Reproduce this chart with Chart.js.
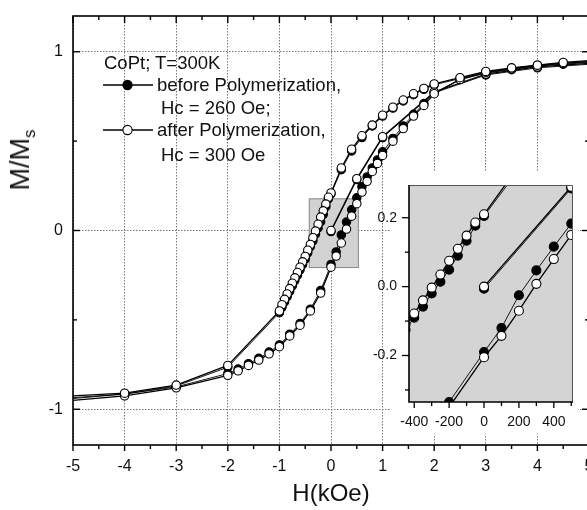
<!DOCTYPE html>
<html>
<head>
<meta charset="utf-8">
<script src="https://cdn.jsdelivr.net/npm/chart.js@4.4.1/dist/chart.umd.min.js"></script>
<style>
html, body { margin: 0; padding: 0; background: #fff; overflow: hidden; width: 587px; height: 510px; }
#wrap { position: relative; width: 600px; height: 510px; }
canvas { position: absolute; left: 0; top: 0; }
#inset { pointer-events: none; }
.txt { position: absolute; font-family: "Liberation Sans", Arial, sans-serif; color: #111; white-space: nowrap; font-size: 18.5px; line-height: 22px; }
#ytitle { left: 25px; top: 160px; font-size: 27px; line-height: 30px; transform: translate(-50%, -50%) rotate(-90deg); }
#ytitle sub { font-size: 17px; vertical-align: -6px; }
.mark { position: absolute; }
</style>
</head>
<body>
<div id="wrap">
  <canvas id="main" width="600" height="510"></canvas>
  <canvas id="inset" width="600" height="510"></canvas>
  <div class="txt" id="ytitle">M/M<sub>s</sub></div>
  <div class="txt" style="left:104px;top:52px">CoPt; T=300K</div>
  <svg class="mark" style="left:102px;top:78px" width="52" height="14"><line x1="1" y1="7" x2="51" y2="7" stroke="#000" stroke-width="1.4"/><circle cx="25.5" cy="7" r="4.6" fill="#000" stroke="#000" stroke-width="1.1"/></svg>
  <div class="txt" style="left:157px;top:74px">before Polymerization,</div>
  <div class="txt" style="left:161px;top:97px">Hc = 260 Oe;</div>
  <svg class="mark" style="left:102px;top:123px" width="52" height="14"><line x1="1" y1="7" x2="51" y2="7" stroke="#000" stroke-width="1.4"/><circle cx="25.5" cy="7" r="4.6" fill="#fff" stroke="#000" stroke-width="1.1"/></svg>
  <div class="txt" style="left:157px;top:119px">after Polymerization,</div>
  <div class="txt" style="left:161px;top:144px">Hc = 300 Oe</div>
</div>
<script>
// field H in kOe, magnetisation M/Ms
// descending branch (field going from +5 to -5)
const descH = [5, 4.5, 4, 3.5, 3, 2.5, 2, 1.8, 1.6, 1.4, 1.2, 1.0, 0.8, 0.6, 0.4, 0.2, 0,
  -0.05, -0.1, -0.15, -0.2, -0.25, -0.3, -0.35, -0.4, -0.45, -0.5, -0.55, -0.6, -0.65,
  -0.7, -0.75, -0.8, -0.85, -0.9, -0.95, -1.0, -2, -3, -4, -5];
const descAfter = [0.95, 0.94, 0.925, 0.91, 0.89, 0.855, 0.82, 0.795, 0.765, 0.73, 0.69, 0.645, 0.59, 0.53, 0.455, 0.35, 0.21,
  0.186, 0.148, 0.11, 0.075, 0.035, -0.003, -0.04, -0.078, -0.11, -0.145, -0.175, -0.205, -0.235,
  -0.265, -0.295, -0.325, -0.355, -0.385, -0.415, -0.45, -0.755, -0.865, -0.91, -0.925];
const descBefore = [0.945, 0.935, 0.92, 0.905, 0.885, 0.85, 0.815, 0.79, 0.76, 0.725, 0.685, 0.64, 0.585, 0.52, 0.445, 0.34, 0.205,
  0.177, 0.133, 0.09, 0.049, 0.014, -0.02, -0.058, -0.09, -0.125, -0.16, -0.19, -0.22, -0.25,
  -0.28, -0.31, -0.34, -0.37, -0.40, -0.43, -0.46, -0.765, -0.87, -0.915, -0.935];

// ascending branch (field going from -5 to +5)
const ascH = [-5, -4, -3, -2, -1.8, -1.6, -1.4, -1.2, -1.0, -0.8, -0.6, -0.4, -0.2, 0, 0.1, 0.2, 0.3, 0.4, 0.5,
  0.6, 0.7, 0.8, 0.9, 1.0, 1.2, 1.4, 1.6, 1.8, 2.0, 2.5, 3, 3.5, 4, 4.5, 5];
const ascAfter = [-0.95, -0.925, -0.88, -0.81, -0.785, -0.755, -0.725, -0.69, -0.65, -0.59, -0.53, -0.45, -0.35, -0.205, -0.143, -0.07, 0.008, 0.08, 0.15,
  0.215, 0.275, 0.33, 0.375, 0.42, 0.5, 0.57, 0.64, 0.70, 0.765, 0.845, 0.885, 0.905, 0.925, 0.935, 0.945];
const ascBefore = [-0.94, -0.915, -0.875, -0.80, -0.775, -0.745, -0.715, -0.68, -0.64, -0.58, -0.52, -0.44, -0.335, -0.19, -0.12, -0.025, 0.047, 0.116, 0.183,
  0.245, 0.30, 0.35, 0.395, 0.44, 0.515, 0.585, 0.65, 0.71, 0.77, 0.845, 0.88, 0.9, 0.92, 0.93, 0.94];

// initial magnetisation curve from the demagnetised state
const virH = [0, 0.5, 1, 2, 3, 4, 5];
const virAfter = [0, 0.29, 0.525, 0.775, 0.875, 0.915, 0.935];
const virBefore = [-0.006, 0.285, 0.52, 0.77, 0.87, 0.91, 0.93];

// axis ticks
const xTicks = [-5, -4, -3, -2, -1, 0, 1, 2, 3, 4, 5];
const yTicks = [-1, 0, 1];
const insetXTicks = [-400, -200, 0, 200, 400];
const insetYTicks = [-0.2, 0, 0.2];

// region shown enlarged in the inset (main axes units)
const zoomBox = { x0: -0.43, x1: 0.54, y0: -0.21, y1: 0.18 };

const FONT = '"Liberation Sans", Arial, sans-serif';

function series(hs, ms, filled, k, radius, hideEdge) {
  return {
    data: hs.map((h, i) => ({ x: h * k, y: ms[i] })),
    showLine: true,
    tension: 0,
    borderColor: '#000',
    borderWidth: filled ? 0.9 : 1.3,
    pointBackgroundColor: filled ? '#000' : '#fff',
    pointBorderColor: '#000',
    pointBorderWidth: 1.1,
    pointRadius: hideEdge ? (c => Math.abs(hs[c.dataIndex]) >= 5 ? 0 : radius) : radius,
    order: filled ? 1 : 0,
    clip: 0
  };
}

function allSeries(k, r, hide) {
  return [
    series(descH, descBefore, true, k, r, hide),
    series(ascH, ascBefore, true, k, r, hide),
    series(virH, virBefore, true, k, r, hide),
    series(descH, descAfter, false, k, r, hide),
    series(ascH, ascAfter, false, k, r, hide),
    series(virH, virAfter, false, k, r, hide)
  ];
}

function fixBox(size) {
  return s => {
    if (s.isHorizontal()) s.height = size; else s.width = size;
    s.paddingLeft = s.paddingRight = s.paddingTop = s.paddingBottom = 0;
  };
}

function tickMarks(ctx, scale, vals, len, side, area) {
  vals.forEach(v => {
    const p = scale.getPixelForValue(v);
    ctx.beginPath();
    if (side === 'top') { ctx.moveTo(p, area.top); ctx.lineTo(p, area.top + len); }
    if (side === 'bottom') { ctx.moveTo(p, area.bottom); ctx.lineTo(p, area.bottom + len); }
    if (side === 'left') { ctx.moveTo(area.left, p); ctx.lineTo(area.left + len, p); }
    if (side === 'right') { ctx.moveTo(area.right, p); ctx.lineTo(area.right + len, p); }
    ctx.stroke();
  });
}

const mainFrame = {
  id: 'mainFrame',
  beforeDatasetsDraw(chart) {
    const { ctx, scales: { x, y } } = chart;
    const l = x.getPixelForValue(zoomBox.x0), r = x.getPixelForValue(zoomBox.x1);
    const t = y.getPixelForValue(zoomBox.y1), b = y.getPixelForValue(zoomBox.y0);
    ctx.save();
    ctx.fillStyle = '#d2d2d2';
    ctx.fillRect(l, t, r - l, b - t);
    ctx.strokeStyle = '#8a8a8a';
    ctx.lineWidth = 1;
    ctx.strokeRect(l + 0.5, t + 0.5, r - l - 1, b - t - 1);
    ctx.restore();
  },
  afterDraw(chart) {
    const { ctx, chartArea: a, scales: { x, y } } = chart;
    ctx.save();
    ctx.strokeStyle = '#000';
    ctx.lineWidth = 1.6;
    ctx.strokeRect(a.left, a.top, a.right - a.left, a.bottom - a.top);
    ctx.lineWidth = 1.4;
    const xMinor = xTicks.slice(1).map(v => v - 0.5);
    tickMarks(ctx, x, xTicks, 7, 'top', a);
    tickMarks(ctx, x, xMinor, 4, 'top', a);
    tickMarks(ctx, x, xTicks, 6, 'bottom', a);
    tickMarks(ctx, x, xMinor, 4, 'bottom', a);
    tickMarks(ctx, y, yTicks, 7, 'left', a);
    tickMarks(ctx, y, [-0.5, 0.5], 4, 'left', a);
    tickMarks(ctx, y, yTicks, -7, 'right', a);
    tickMarks(ctx, y, [-0.5, 0.5], -4, 'right', a);
    ctx.restore();
  }
};

const insetFrame = {
  id: 'insetFrame',
  beforeDraw(chart) {
    const { ctx, chartArea: a } = chart;
    ctx.save();
    ctx.fillStyle = '#fff';
    ctx.fillRect(390, 172, 188, 262);
    ctx.fillStyle = '#d4d4d4';
    ctx.fillRect(a.left, a.top, a.right - a.left, a.bottom - a.top);
    ctx.restore();
  },
  afterDraw(chart) {
    const { ctx, chartArea: a, scales: { x, y } } = chart;
    ctx.save();
    ctx.strokeStyle = '#555';
    ctx.lineWidth = 1;
    ctx.beginPath();
    ctx.moveTo(a.left, a.top + 0.5); ctx.lineTo(a.right - 0.5, a.top + 0.5); ctx.lineTo(a.right - 0.5, a.bottom);
    ctx.stroke();
    ctx.strokeStyle = '#000';
    ctx.lineWidth = 1.6;
    ctx.beginPath();
    ctx.moveTo(a.left, a.top); ctx.lineTo(a.left, a.bottom); ctx.lineTo(a.right, a.bottom);
    ctx.stroke();
    ctx.lineWidth = 1.3;
    tickMarks(ctx, x, insetXTicks, 6, 'bottom', a);
    tickMarks(ctx, x, [-300, -100, 100, 300, 500].filter(v => v <= x.max), 4, 'bottom', a);
    tickMarks(ctx, y, insetYTicks, -7, 'left', a);
    tickMarks(ctx, y, [-0.3, -0.1, 0.1], -4, 'left', a);
    ctx.restore();
  }
};

new Chart(document.getElementById('main'), {
  type: 'scatter',
  data: { datasets: allSeries(1, 4.2, true) },
  options: {
    responsive: false,
    animation: false,
    layout: { padding: { left: 0, top: 16, right: 11, bottom: 0 } },
    plugins: { legend: { display: false }, tooltip: { enabled: false } },
    scales: {
      x: {
        type: 'linear', min: -5, max: 5,
        afterBuildTicks: s => { s.ticks = xTicks.map(v => ({ value: v })); },
        afterFit: fixBox(65),
        grid: { color: '#777', lineWidth: 1, drawTicks: false },
        border: { display: false, dash: [1.5, 1.5] },
        ticks: { color: '#111', padding: 12, font: { family: FONT, size: 16 } },
        title: { display: true, text: 'H(kOe)', color: '#111', padding: { top: 0, bottom: 1 }, font: { family: FONT, size: 24 } }
      },
      y: {
        type: 'linear', min: -1.2, max: 1.2,
        afterBuildTicks: s => { s.ticks = yTicks.map(v => ({ value: v })); },
        afterFit: fixBox(73),
        grid: { color: '#777', lineWidth: 1, drawTicks: false },
        border: { display: false, dash: [1.5, 1.5] },
        ticks: { color: '#111', padding: 10, font: { family: FONT, size: 16 } }
      }
    }
  },
  plugins: [mainFrame]
});

new Chart(document.getElementById('inset'), {
  type: 'scatter',
  data: { datasets: allSeries(1000, 4.5, false) },
  options: {
    responsive: false,
    animation: false,
    events: [],
    layout: { padding: { left: 300, top: 185, right: 27, bottom: 78 } },
    plugins: { legend: { display: false }, tooltip: { enabled: false } },
    scales: {
      x: {
        type: 'linear', min: -430, max: 510,
        afterBuildTicks: s => { s.ticks = insetXTicks.map(v => ({ value: v })); },
        afterFit: fixBox(30),
        grid: { display: false, drawTicks: false },
        border: { display: false },
        ticks: { color: '#111', padding: 12, font: { family: FONT, size: 14 } }
      },
      y: {
        type: 'linear', min: -0.335, max: 0.295,
        afterBuildTicks: s => { s.ticks = insetYTicks.map(v => ({ value: v })); },
        afterFit: fixBox(109),
        grid: { display: false, drawTicks: false },
        border: { display: false },
        ticks: { color: '#111', padding: 12, font: { family: FONT, size: 14 }, callback: v => v.toFixed(1) }
      }
    }
  },
  plugins: [insetFrame]
});
</script>
</body>
</html>
